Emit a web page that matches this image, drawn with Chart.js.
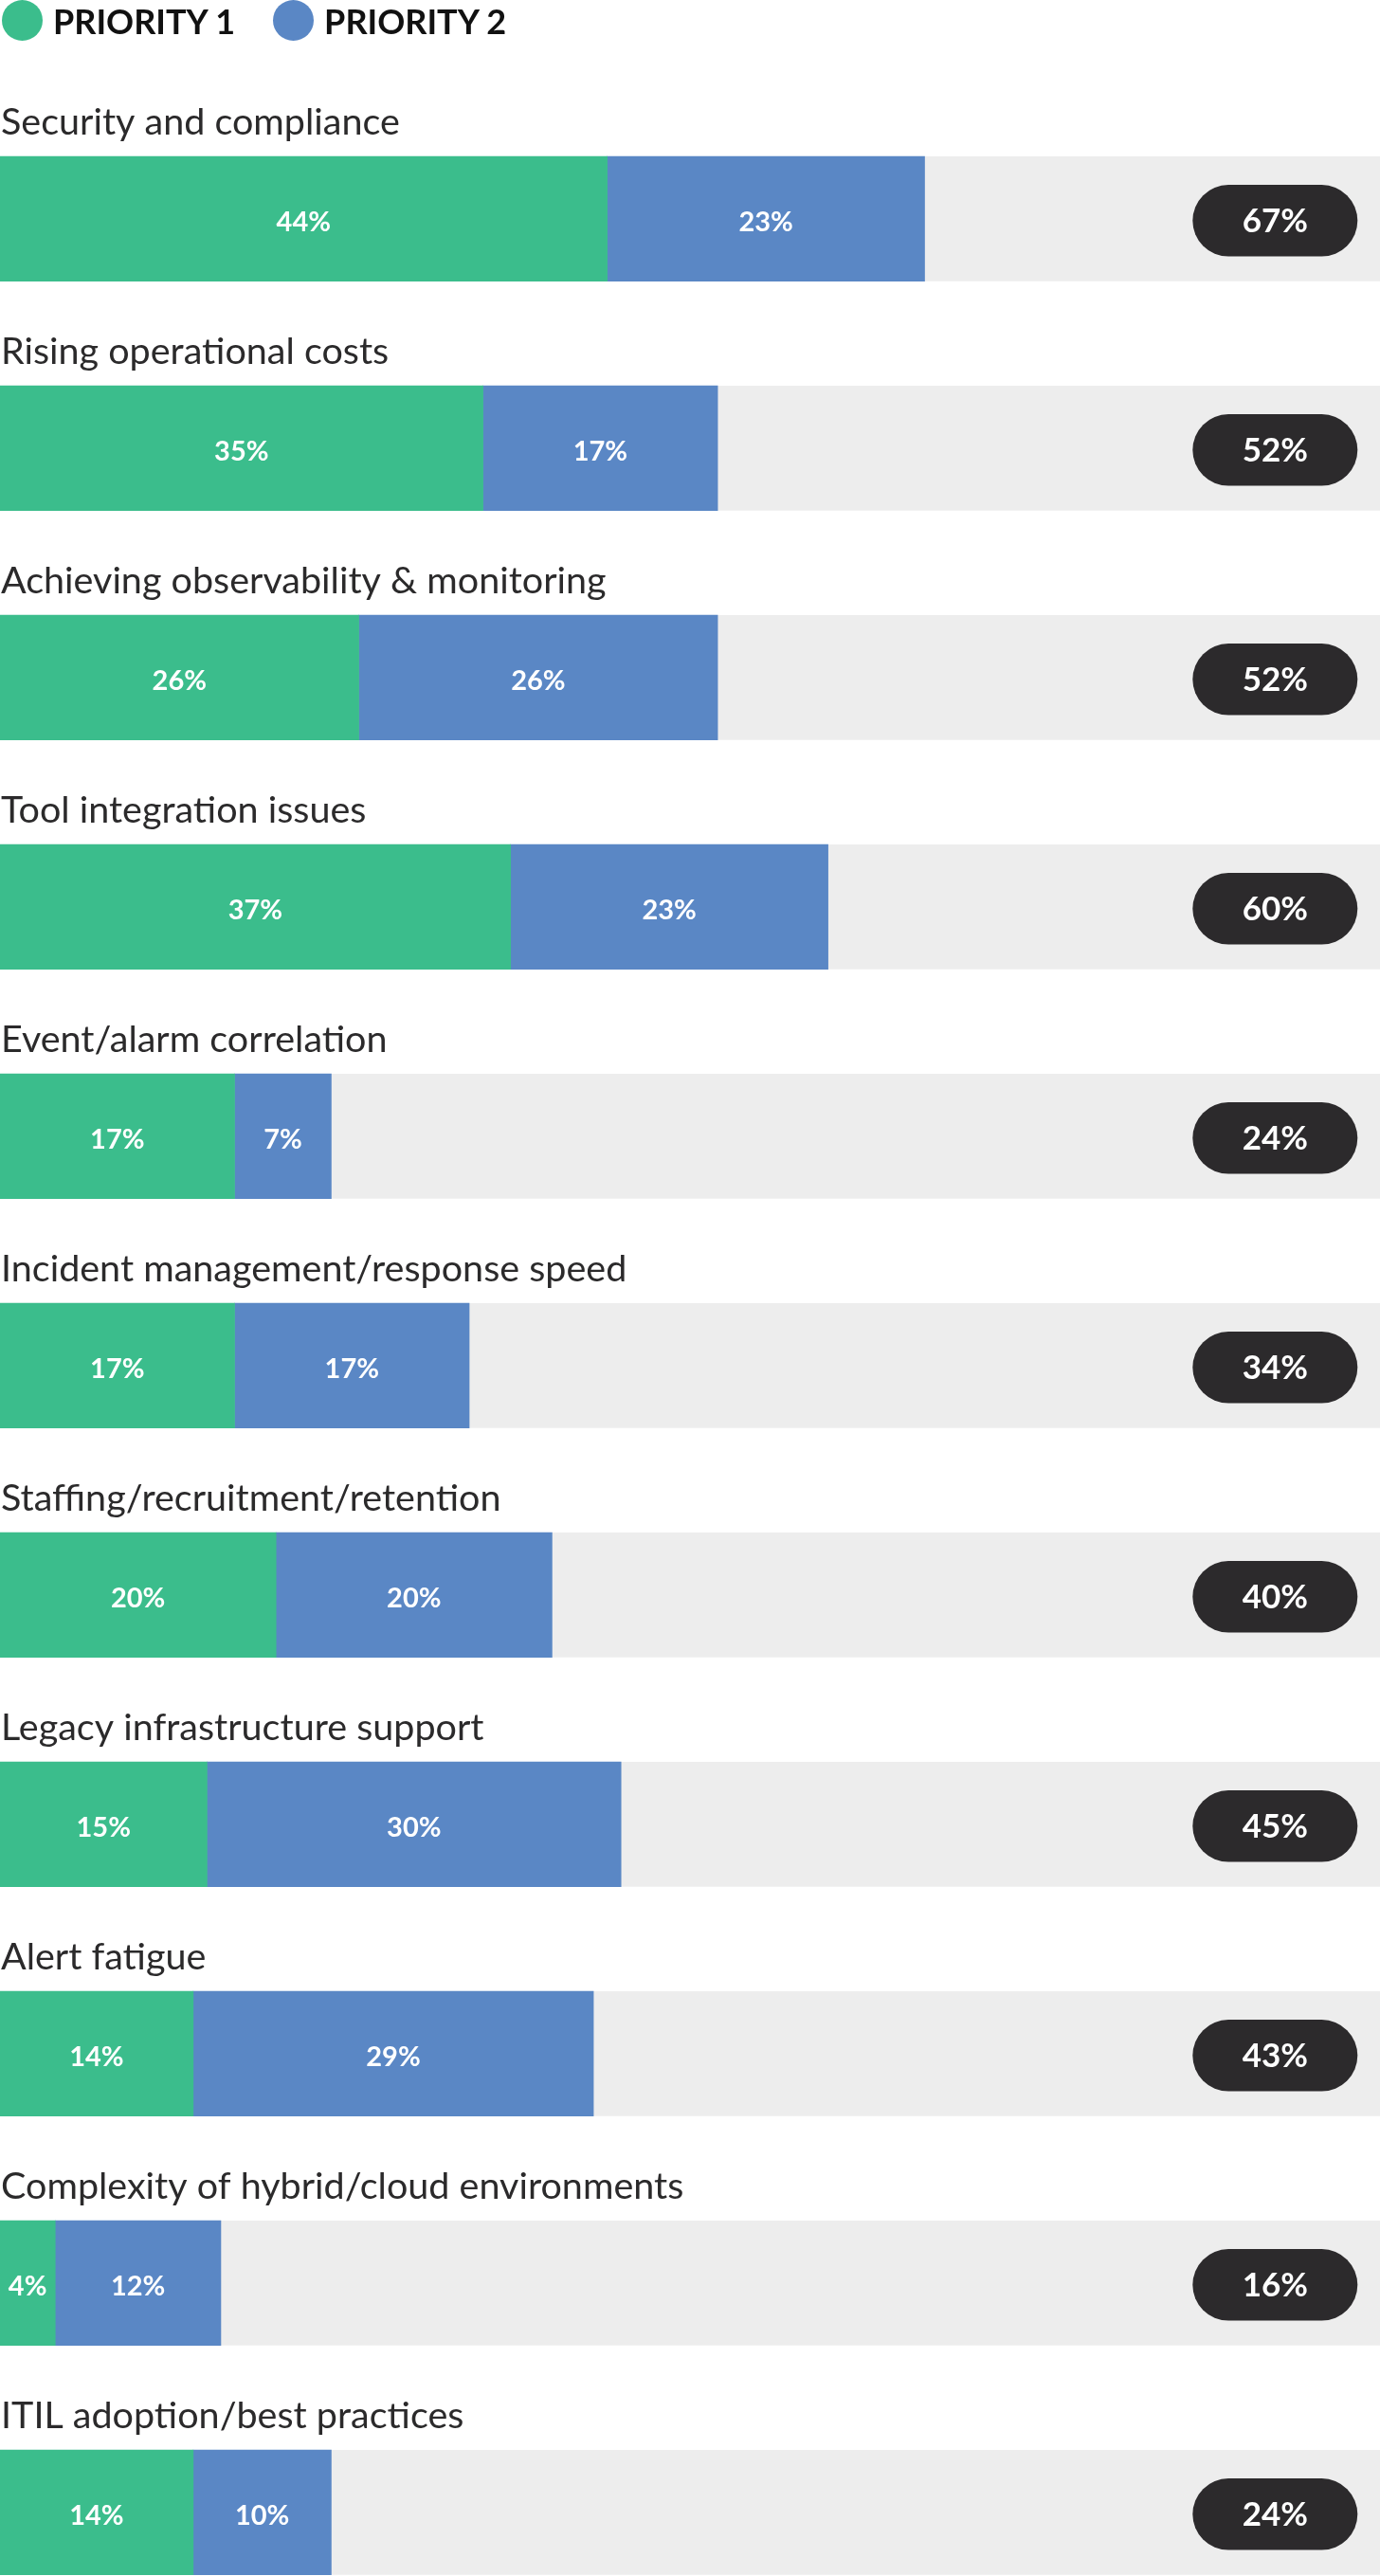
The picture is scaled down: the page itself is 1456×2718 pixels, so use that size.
<!DOCTYPE html>
<html><head><meta charset="utf-8">
<script src="https://cdn.jsdelivr.net/npm/chart.js@4.4.0/dist/chart.umd.min.js"></script>
<style>
html,body{margin:0;padding:0;background:#fff;width:1456px;height:2718px;overflow:hidden;}
#wrap{position:relative;width:1456px;height:2718px;}
#legend{position:absolute;left:2px;top:0;height:43px;display:flex;align-items:center;font-family:Lato,sans-serif;font-weight:700;font-size:36px;color:#111;z-index:2;}
.item{display:flex;align-items:center;margin-right:40px;}
.dot{width:43px;height:43px;border-radius:50%;margin-right:11px;flex:none;}
canvas{position:absolute;left:0;top:0;}
</style></head>
<body><div id="wrap"><div id="legend"></div><canvas id="c" width="1456" height="2718"></canvas></div>
<script>
const categories = [
  'Security and compliance',
  'Rising operational costs',
  'Achieving observability & monitoring',
  'Tool integration issues',
  'Event/alarm correlation',
  'Incident management/response speed',
  'Staffing/recruitment/retention',
  'Legacy infrastructure support',
  'Alert fatigue',
  'Complexity of hybrid/cloud environments',
  'ITIL adoption/best practices'
];
const priority1 = [44, 35, 26, 37, 17, 17, 20, 15, 14, 4, 14];
const priority2 = [23, 17, 26, 23, 7, 17, 20, 30, 29, 12, 10];
const seriesNames = ['PRIORITY 1', 'PRIORITY 2'];

const GREEN = '#3bbd8c', BLUE = '#5a87c5', TRACK = '#ededed', DARK = '#2c2a2c', LABEL = '#2b2a2b';
const FONT = 'Lato, sans-serif';

const toPoints = arr => arr.map((v, i) => ({ x: v, y: i }));

const overlayPlugin = {
  id: 'overlay',
  beforeDatasetsDraw(chart) {
    const { ctx, scales: { x } } = chart;
    const meta = chart.getDatasetMeta(0);
    const x0 = x.getPixelForValue(0), x1 = x.getPixelForValue(100);
    ctx.save();
    ctx.fillStyle = TRACK;
    meta.data.forEach(bar => {
      const { y, height } = bar.getProps(['y', 'height'], true);
      ctx.fillRect(x0, y - height / 2, x1 - x0, height);
    });
    ctx.restore();
  },
  afterDatasetsDraw(chart) {
    const { ctx, chartArea, scales: { x } } = chart;
    ctx.save();
    chart.data.datasets.forEach((ds, di) => {
      const meta = chart.getDatasetMeta(di);
      meta.data.forEach((bar, i) => {
        const p = bar.getProps(['x', 'base', 'y', 'height'], true);
        ctx.font = `700 29px ${FONT}`;
        ctx.fillStyle = '#ffffff';
        ctx.textAlign = 'center';
        ctx.textBaseline = 'middle';
        ctx.fillText(ds.data[i].x + '%', (p.x + p.base) / 2, p.y + 4);
      });
    });
    const meta0 = chart.getDatasetMeta(0);
    meta0.data.forEach((bar, i) => {
      const { y, height } = bar.getProps(['y', 'height'], true);
      const top = y - height / 2;
      ctx.font = `400 39.5px ${FONT}`;
      ctx.fillStyle = LABEL;
      ctx.textAlign = 'left';
      ctx.textBaseline = 'alphabetic';
      ctx.fillText(categories[i], x.getPixelForValue(0) + 1, top - 22.5);

      const total = priority1[i] + priority2[i];
      const pw = 174, ph = 75.5;
      const cx = chartArea.right - 110.7;
      ctx.fillStyle = DARK;
      ctx.beginPath();
      ctx.roundRect(cx - pw / 2, y + 2 - ph / 2, pw, ph, ph / 2);
      ctx.fill();
      ctx.font = `700 35px ${FONT}`;
      ctx.fillStyle = '#ffffff';
      ctx.textAlign = 'center';
      ctx.textBaseline = 'middle';
      ctx.fillText(total + '%', cx, y + 3);
    });
    ctx.restore();
  }
};

const chart = new Chart(document.getElementById('c'), {
  type: 'bar',
  data: {
    datasets: [
      { label: seriesNames[0], data: toPoints(priority1), backgroundColor: GREEN },
      { label: seriesNames[1], data: toPoints(priority2), backgroundColor: BLUE }
    ]
  },
  options: {
    indexAxis: 'y',
    responsive: false,
    animation: false,
    layout: { padding: { top: 109.85, bottom: 0, left: 0, right: 0 } },
    datasets: { bar: { barThickness: 131.7, borderWidth: 0 } },
    scales: {
      x: { type: 'linear', min: 0, max: 100, stacked: true, display: false, offset: false },
      y: { type: 'linear', min: -0.5, max: 10.2775, reverse: true, stacked: true, display: false, offset: false, grid: { offset: false } }
    },
    plugins: { legend: { display: false }, tooltip: { enabled: false } }
  },
  plugins: [overlayPlugin]
});

const legendEl = document.getElementById('legend');
chart.data.datasets.forEach(ds => {
  const item = document.createElement('div');
  item.className = 'item';
  const dot = document.createElement('span');
  dot.className = 'dot';
  dot.style.background = ds.backgroundColor;
  const txt = document.createElement('span');
  txt.textContent = ds.label;
  item.appendChild(dot); item.appendChild(txt);
  legendEl.appendChild(item);
});
</script>
</body></html>
